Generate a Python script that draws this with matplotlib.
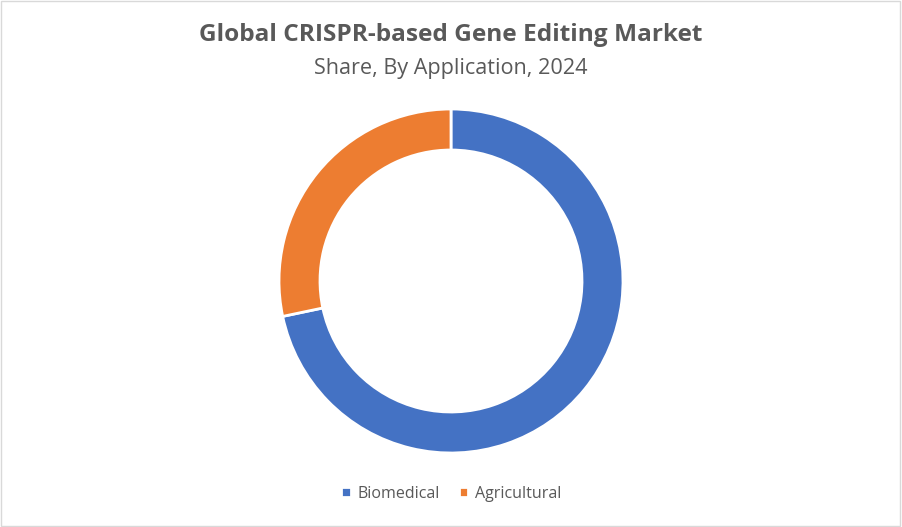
import matplotlib.pyplot as plt
from matplotlib.patches import Rectangle

applications = ['Biomedical', 'Agricultural']
shares = [71.7, 28.3]
colors = ['#4472C4', '#ED7D31']

plt.rcParams['font.family'] = ['Open Sans', 'DejaVu Sans']

fig = plt.figure(figsize=(9.02, 5.27), dpi=100)
fig.patches.append(Rectangle((0.001, 0.001), 0.997, 0.997, transform=fig.transFigure,
                             fill=False, edgecolor='#D9D9D9', linewidth=1))

# donut placed by pixel geometry of the reference
cx, cy, r = 451, 281, 172
ax = fig.add_axes([(cx - r) / 902, (527 - cy - r) / 527, 2 * r / 902, 2 * r / 527])
wedges, _ = ax.pie(shares, colors=colors, startangle=90, counterclock=False,
                   wedgeprops=dict(width=41 / 172, edgecolor='white', linewidth=2))
ax.set_xlim(-1, 1)
ax.set_ylim(-1, 1)
ax.set_aspect('equal')

fig.text(0.5, 1 - 35 / 527, 'Global CRISPR-based Gene Editing Market', ha='center', va='center',
         fontsize=17.6, fontweight='bold', color='#595959')
fig.text(0.5, 1 - 69 / 527, 'Share, By Application, 2024', ha='center', va='center',
         fontsize=15.6, color='#595959')

fig.legend(wedges, applications, loc='center', bbox_to_anchor=(0.5, 1 - 494 / 527), ncol=2,
           frameon=False, handlelength=0.6, handleheight=0.6, handletextpad=0.4,
           columnspacing=1.2, fontsize=11.5, labelcolor='#595959')

fig.savefig('out.png', dpi=100)
